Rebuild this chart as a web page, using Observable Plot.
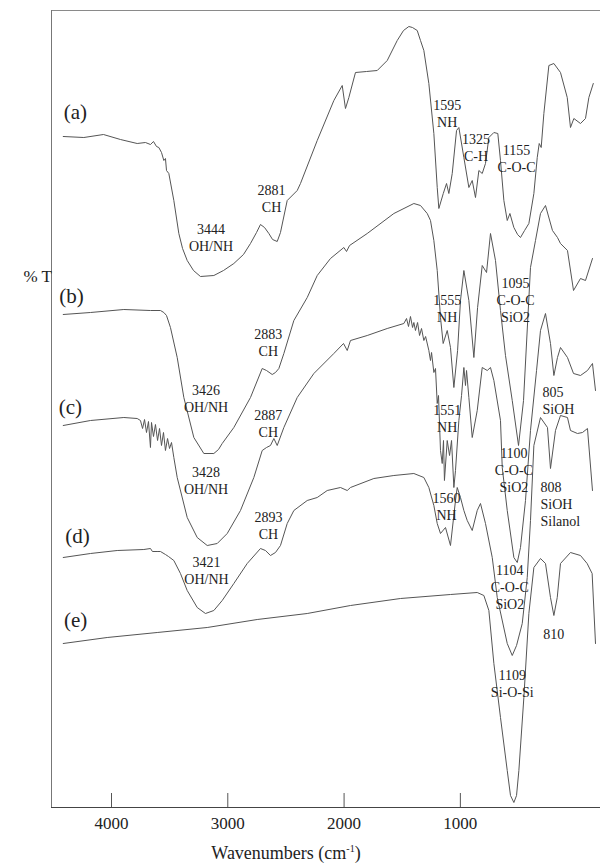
<!DOCTYPE html>
<html>
<head>
<meta charset="utf-8">
<script src="https://cdn.jsdelivr.net/npm/d3@7"></script>
<script src="https://cdn.jsdelivr.net/npm/@observablehq/plot@0.6"></script>
<style>
  html, body { margin: 0; padding: 0; background: #fff; }
  body { position: relative; width: 600px; height: 864px; overflow: hidden; }
  #chart svg { display: block; }
  #xtitle { position: absolute; left: 0; top: 843px; width: 572px; text-align: center; font-family: "Liberation Serif", serif; font-size: 18px; line-height: 20px; color: #222; white-space: nowrap; }
  #xtitle sup { font-size: 10px; line-height: 0; vertical-align: 7px; }
</style>
</head>
<body>
<div id="chart"></div>
<div id="xtitle">Wavenumbers (cm<sup>-1</sup>)</div>
<script>
// x = wavenumber (cm-1, as read against the drawn axis), y = %T (arbitrary offset units)
const xTicks = [4000, 3000, 2000, 1000];

const spectrumA = [
[4415,671],[4238,670],[4069,673],[3923,668],[3779,664],[3708,665],[3665,663],[3639,666],[3613,661],[3593,660],[3570,655],[3550,647],[3536,649],[3527,637],[3507,634],[3464,607],[3421,574],[3389,559],[3349,547],[3295,537],[3235,531],[3120,532],[3037,537],[2948,544],[2865,553],[2805,564],[2753,575],[2719,583],[2684,580],[2647,574],[2615,568],[2575,566],[2547,575],[2489,607],[2403,617],[2375,624],[2231,667],[2088,707],[2016,722],[1988,699],[1959,710],[1902,735],[1807,736],[1715,737],[1629,747],[1543,767],[1489,777],[1443,781],[1412,780],[1371,777],[1343,767],[1314,757],[1271,724],[1228,674],[1199,620],[1185,599],[1147,614],[1119,624],[1099,614],[1070,634],[1033,677],[1013,680],[970,650],[927,620],[898,627],[870,610],[841,637],[812,634],[784,644],[755,670],[712,675],[678,674],[655,647],[626,607],[597,587],[574,594],[540,580],[508,573],[483,570],[448,577],[411,584],[368,614],[339,650],[322,664],[305,660],[282,694],[239,742],[196,744],[139,735],[81,710],[53,680],[24,689],[-33,684],[-76,689],[-105,710],[-143,724]
];

const spectrumB = [
[4415,493],[4181,495],[3894,498],[3665,497],[3579,497],[3550,495],[3527,492],[3493,480],[3435,450],[3378,410],[3292,370],[3206,354],[3120,354],[3080,358],[3048,364],[2948,380],[2805,410],[2704,439],[2667,437],[2618,433],[2590,435],[2561,439],[2518,454],[2432,487],[2317,510],[2231,532],[2117,549],[2002,560],[1979,556],[1953,562],[1801,574],[1572,594],[1400,604],[1343,602],[1285,594],[1257,587],[1228,567],[1199,537],[1171,490],[1148,464],[1113,477],[1085,460],[1056,420],[1024,457],[999,507],[970,537],[927,507],[884,450],[852,500],[812,542],[775,535],[741,574],[698,547],[655,497],[612,452],[554,407],[500,362],[457,407],[397,540],[354,567],[311,594],[268,602],[208,577],[165,570],[139,564],[79,557],[27,517],[-33,529],[-76,527],[-136,549]
];

const spectrumC = [
[4415,382],[4181,387],[3894,390],[3779,389],[3751,387],[3733,379],[3716,388],[3699,375],[3682,386],[3665,360],[3656,385],[3639,371],[3622,383],[3604,367],[3587,379],[3570,362],[3553,375],[3536,357],[3518,369],[3501,359],[3484,365],[3464,350],[3435,330],[3349,290],[3263,270],[3177,262],[3091,264],[3005,274],[2891,297],[2776,330],[2704,357],[2667,360],[2633,362],[2604,369],[2575,362],[2518,380],[2403,410],[2260,434],[2088,454],[2005,464],[1973,457],[1945,467],[1801,472],[1629,479],[1486,484],[1463,489],[1446,481],[1429,491],[1411,480],[1400,485],[1386,477],[1368,485],[1351,472],[1334,479],[1314,467],[1299,471],[1271,457],[1257,447],[1248,455],[1228,435],[1214,439],[1199,404],[1188,412],[1171,357],[1156,344],[1145,367],[1137,327],[1113,367],[1093,352],[1076,367],[1056,320],[1042,337],[1013,387],[990,412],[970,440],[956,422],[947,437],[927,410],[898,370],[855,397],[812,440],[769,437],[741,440],[712,427],[655,387],[640,340],[597,297],[540,250],[511,245],[483,260],[440,307],[397,377],[345,437],[311,477],[268,494],[225,464],[196,432],[165,450],[139,460],[79,450],[27,434],[-33,432],[-93,437],[-136,444],[-162,417]
];

const spectrumD = [
[4415,250],[4181,254],[3951,257],[3722,258],[3665,259],[3648,256],[3608,256],[3579,256],[3536,253],[3510,251],[3464,247],[3407,234],[3349,217],[3263,200],[3192,194],[3120,197],[3048,207],[2948,224],[2833,244],[2719,259],[2676,257],[2633,252],[2590,255],[2547,262],[2489,284],[2432,297],[2317,307],[2231,310],[2145,317],[2031,320],[1973,317],[1945,320],[1744,329],[1572,332],[1400,334],[1314,330],[1271,320],[1228,302],[1199,284],[1171,274],[1128,280],[1085,262],[1042,307],[1027,320],[999,310],[970,297],[941,287],[898,277],[855,297],[827,304],[784,284],[726,250],[683,210],[597,164],[554,152],[517,162],[468,184],[425,230],[397,287],[368,362],[311,390],[251,380],[225,339],[182,377],[139,392],[79,390],[53,377],[-7,374],[-50,375],[-93,379],[-136,317]
];

const spectrumE = [
[4415,164],[4037,170],[3607,175],[3177,180],[2747,188],[2317,194],[1945,202],[1515,209],[1085,213],[855,215],[798,212],[755,197],[712,144],[655,90],[597,37],[569,12],[540,5],[517,12],[497,37],[454,110],[411,194],[368,240],[311,249],[268,244],[225,210],[196,192],[167,210],[139,244],[53,255],[-33,252],[-90,244],[-133,234],[-162,164]
];

const seriesNames = ["(a)", "(b)", "(c)", "(d)", "(e)"];
const seriesNamePos = [[4310,695],[4344,511],[4353,400],[4292,271],[4309,187]];

const bandLabels = [
  {w: 2624, t: 609, text: "2881\nCH"},
  {w: 3144, t: 570, text: "3444\nOH/NH"},
  {w: 1113, t: 694, text: "1595\nNH"},
  {w: 865,  t: 660, text: "1325\nC-H"},
  {w: 517,  t: 649, text: "1155\nC-O-C"},
  {w: 2652, t: 465, text: "2883\nCH"},
  {w: 3187, t: 409, text: "3426\nOH/NH"},
  {w: 1113, t: 499, text: "1555\nNH"},
  {w: 526,  t: 508, text: "1095\nC-O-C\nSiO2"},
  {w: 2652, t: 384, text: "2887\nCH"},
  {w: 3187, t: 327, text: "3428\nOH/NH"},
  {w: 1113, t: 389, text: "1551\nNH"},
  {w: 540,  t: 338, text: "1100\nC-O-C\nSiO2"},
  {w: 2650, t: 282, text: "2893\nCH"},
  {w: 3183, t: 237, text: "3421\nOH/NH"},
  {w: 1119, t: 301, text: "1560\nNH"},
  {w: 575,  t: 221, text: "1104\nC-O-C\nSiO2"},
  {w: 196,  t: 174, text: "810"},
  {w: 554,  t: 124, text: "1109\nSi-O-Si"}
];
const sideLabels = [
  {w: 293, t: 407, text: "805\nSiOH"},
  {w: 311, t: 304, text: "808\nSiOH\nSilanol"}
];

const spectra = [spectrumA, spectrumB, spectrumC, spectrumD, spectrumE];
const rows = spectra.flatMap((s, i) => s.map(([w, t]) => ({id: seriesNames[i], w, t})));
const nameRows = seriesNames.map((n, i) => ({text: n, w: seriesNamePos[i][0], t: seriesNamePos[i][1]}));

const serif = "Liberation Serif, serif";

const chart = Plot.plot({
  width: 600,
  height: 838,
  marginTop: 10,
  marginRight: 0,
  marginBottom: 31,
  marginLeft: 51,
  x: {domain: [4516, -205], axis: null},
  y: {domain: [0, 797], axis: null},
  style: {fontFamily: serif, fontSize: "17px", color: "#222", background: "#fff", overflow: "visible"},
  marks: [
    Plot.ruleY([797], {stroke: "#8a8a8a"}),
    Plot.ruleX([4516], {stroke: "#777"}),
    Plot.ruleY([0], {stroke: "#444"}),
    Plot.ruleX(xTicks, {y1: 0, y2: 14, stroke: "#555"}),
    Plot.text(xTicks, {x: d => d, frameAnchor: "bottom", lineAnchor: "top", dy: 9, text: d => String(d), fontSize: 17, fontFamily: serif, fill: "#222"}),
    Plot.line(rows, {x: "w", y: "t", z: "id", stroke: "#555", strokeWidth: 1}),
    Plot.text(bandLabels, {x: "w", y: "t", text: "text", fontSize: 14, fontFamily: serif, lineHeight: 1.2, fill: "#222"}),
    Plot.text(sideLabels, {x: "w", y: "t", text: "text", fontSize: 14, fontFamily: serif, lineHeight: 1.2, textAnchor: "start", fill: "#222"}),
    Plot.text(nameRows, {x: "w", y: "t", text: "text", fontSize: 21, fontFamily: serif, fill: "#222"}),
    Plot.text(["% T"], {frameAnchor: "left", dx: -28, y: [531], text: d => d, fontSize: 17, fontFamily: serif, fill: "#222"})
  ]
});
document.getElementById("chart").append(chart);
</script>
</body>
</html>
